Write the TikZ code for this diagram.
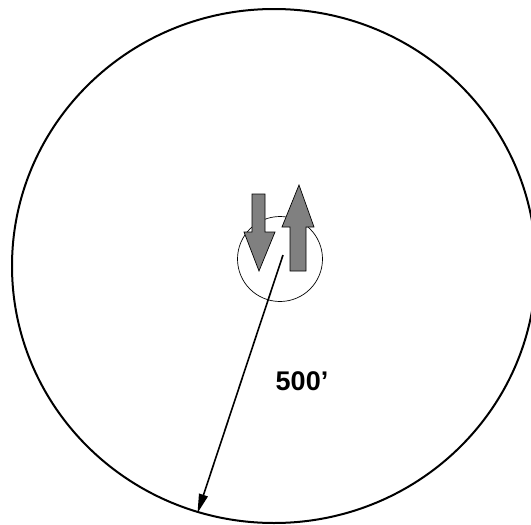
\documentclass[tikz,border=0pt]{standalone}
\usepackage{fontspec}
\setmainfont{Liberation Sans}
\usetikzlibrary{arrows.meta}
\definecolor{flowgray}{HTML}{808080}

\begin{document}
\begin{tikzpicture}[x=1pt, y=-1pt,
  ring/.style={draw=black, line width=2pt},
  well/.style={draw=black, line width=.7pt},
  flow/.style={draw=black, line width=.7pt, fill=flowgray},
  radius line/.style={-{Triangle[length=19pt, width=9pt]}, draw=black, line width=1.6pt}
]
  \useasboundingbox (0,0) rectangle (531,525);
  % outer boundary
  \draw[ring] (274,266) ellipse [x radius=262, y radius=257];
  % well circle
  \node[well, circle, minimum size=85pt, inner sep=0pt] (well) at (280,259) {};
  \coordinate (rim) at (197.5,513);
  \coordinate (centre) at (283,255);
  % down and up arrows
  \draw[flow] (252,194) -- (265,194) -- (265,232) -- (275,232) -- (259,271)
    -- (244,232) -- (252,232) -- cycle;
  \draw[flow] (290,271) -- (306,271) -- (306,227) -- (314,227) -- (299,185)
    -- (282,227) -- (290,227) -- cycle;
  % radius
  \draw[radius line] (centre) -- (rim);
  \node[font=\fontsize{27}{32}\selectfont\bfseries] (dist) at (302,381) {500’};
\end{tikzpicture}
\end{document}
